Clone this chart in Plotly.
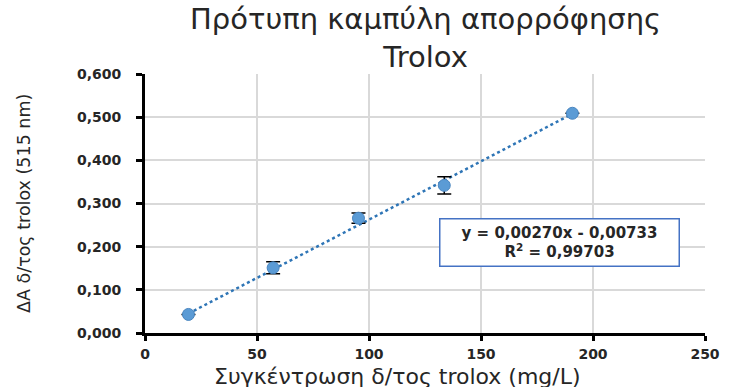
import plotly.graph_objects as go

# Standard curve data: Trolox concentration (mg/L) vs absorbance change at 515 nm
concentration = [19.4, 57.2, 95.3, 133.6, 190.8]
delta_abs = [0.043, 0.151, 0.266, 0.342, 0.509]
abs_error = [0.0, 0.014, 0.012, 0.020, 0.0]

# Linear regression reported for the curve
slope = 0.00270
intercept = -0.00733
r_squared = 0.99703

x_ticks = [0, 50, 100, 150, 200, 250]
y_ticks = [0.0, 0.1, 0.2, 0.3, 0.4, 0.5, 0.6]

FONT = "DejaVu Sans"
TEXT = "#262626"

fit_x = [concentration[0], concentration[-1]]
fit_y = [slope * v + intercept for v in fit_x]

def comma(v, d):
    return f"{v:.{d}f}".replace(".", ",")

eq_text = (f"y = {comma(slope, 5)}x - {comma(abs(intercept), 5)}<br>"
           f"R<sup>2</sup> = {comma(r_squared, 5)}")

fig = go.Figure()

fig.add_trace(go.Scatter(
    x=fit_x, y=fit_y, mode="lines",
    line=dict(color="#2e75b6", width=2.5, dash="dot"),
    hoverinfo="skip", showlegend=False,
))

fig.add_trace(go.Scatter(
    x=concentration, y=delta_abs, mode="markers",
    marker=dict(size=12, color="#5b9bd5", line=dict(color="#4a86c0", width=1)),
    error_y=dict(type="data", array=abs_error, visible=True,
                 color="#000000", thickness=1.5, width=7),
    showlegend=False,
))

fig.update_layout(
    width=732, height=387,
    margin=dict(l=145, r=20, t=74, b=54),
    paper_bgcolor="white", plot_bgcolor="white",
    separators=",.",
    font=dict(family=FONT, color=TEXT),
    annotations=[
        dict(text="Πρότυπη καμπύλη απορρόφησης<br>Trolox",
             x=0.5, y=1.138, xref="paper", yref="paper",
             xanchor="center", yanchor="middle", showarrow=False,
             font=dict(family=FONT, size=29, color=TEXT)),
        dict(text=eq_text, x=185, y=0.2105, xref="x", yref="y",
             xanchor="center", yanchor="middle", showarrow=False,
             width=236, height=44, align="center",
             bgcolor="white", bordercolor="#4472c4", borderwidth=1.5,
             font=dict(family=FONT, size=15, color=TEXT, weight="bold")),
        dict(text="Συγκέντρωση δ/τος trolox (mg/L)", x=0.45, y=-0.168,
             xref="paper", yref="paper", xanchor="center", yanchor="middle",
             showarrow=False, font=dict(family=FONT, size=22, color=TEXT)),
        dict(text="ΔΑ δ/τος trolox (515 nm)", x=-0.217, y=0.5, textangle=-90,
             xref="paper", yref="paper", xanchor="center", yanchor="middle",
             showarrow=False, font=dict(family=FONT, size=17.5, color=TEXT)),
    ],
)

fig.update_xaxes(
    range=[0, 250], tickvals=x_ticks, ticktext=[str(v) for v in x_ticks],
    showline=True, linecolor="black", linewidth=3,
    ticks="outside", ticklen=5, tickwidth=3, tickcolor="black",
    showgrid=True, gridcolor="#d9d9d9", gridwidth=1.5,
    zeroline=False, ticklabelstandoff=1,
    tickfont=dict(family=FONT, size=14, color=TEXT, weight="bold"),
)
fig.update_yaxes(
    range=[0, 0.6], tickvals=y_ticks, tickformat=".3f",
    showline=True, linecolor="black", linewidth=3,
    ticks="outside", ticklen=6, tickwidth=3, tickcolor="black",
    showgrid=True, gridcolor="#d9d9d9", gridwidth=1.5,
    zeroline=False, ticklabelstandoff=12,
    tickfont=dict(family=FONT, size=14, color=TEXT, weight="bold"),
)

fig.write_html("out.html")
